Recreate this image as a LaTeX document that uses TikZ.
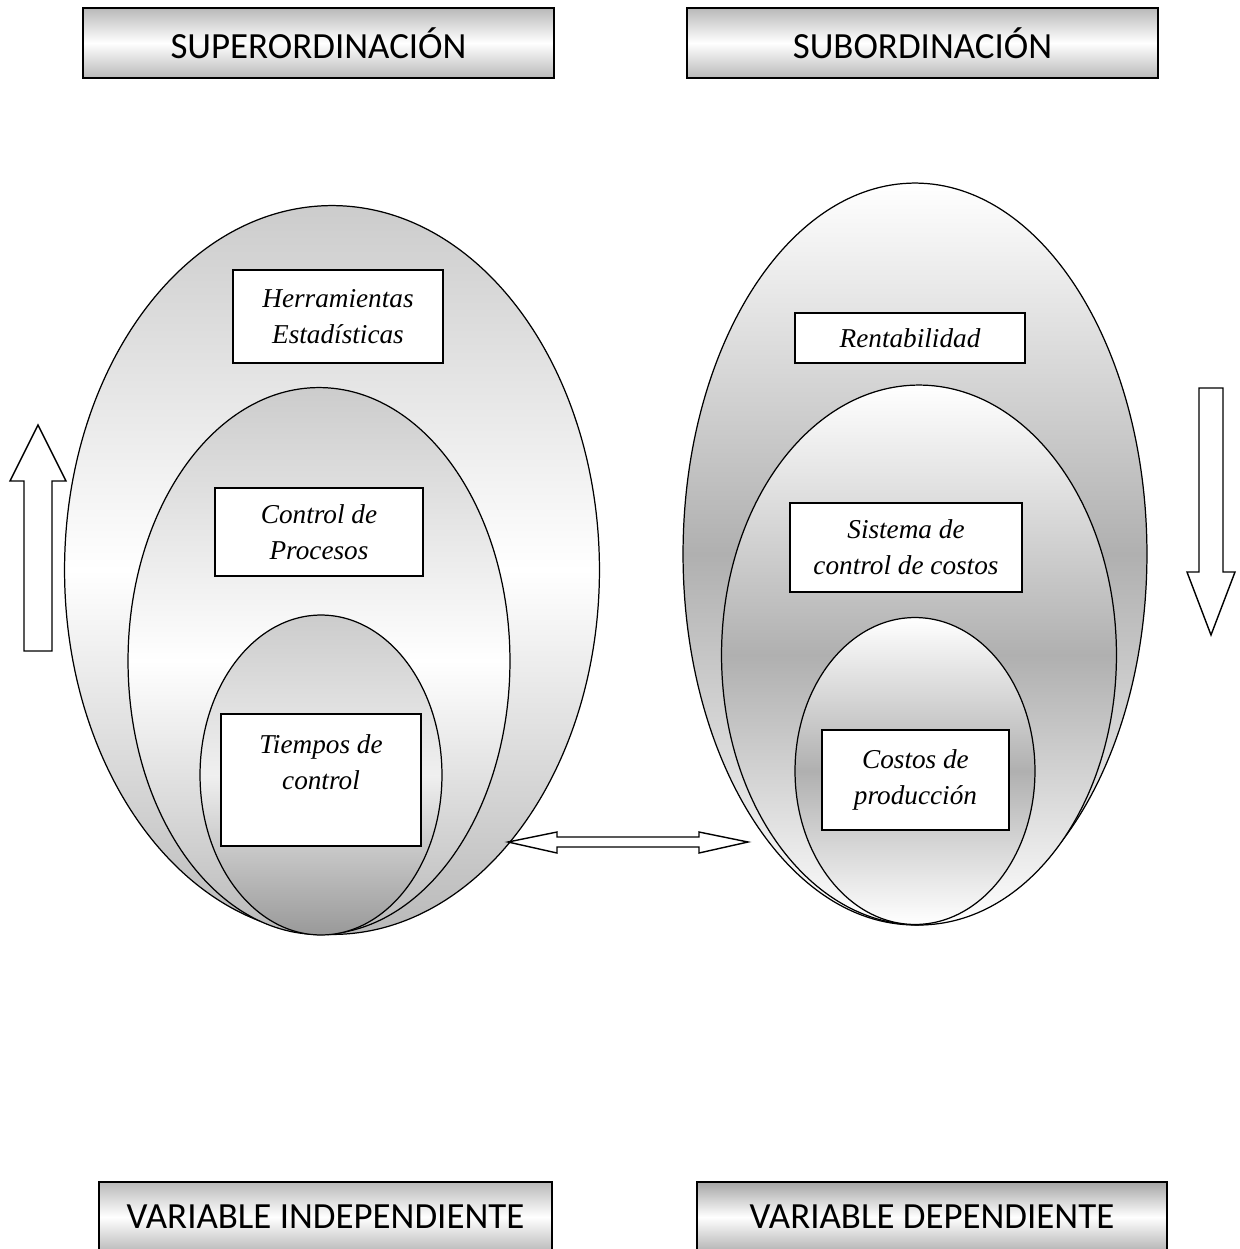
\documentclass[tikz,border=0pt]{standalone}
\usepackage{fontspec}
\setmainfont{Liberation Serif}
\newfontfamily\headfont{Carlito}
\usetikzlibrary{shapes.geometric}

\begin{document}
\begin{tikzpicture}[x=0.02cm,y=-0.02cm,
  headbox/.style={draw,line width=0.8pt,minimum width=9.42cm,minimum height=1.4cm,top color=gray!55,bottom color=gray!55,middle color=white,font=\headfont\fontsize{21}{25}\selectfont},
  riseoval/.style={draw,ellipse,line width=0.7pt,inner sep=0pt,top color=gray!40,bottom color=gray!55,middle color=white},
  sinkoval/.style={draw,ellipse,line width=0.7pt,inner sep=0pt,top color=white,bottom color=white,middle color=gray!62},
  itembox/.style={draw,line width=0.7pt,fill=white,align=center,font=\itshape\fontsize{15.5}{20.5}\selectfont},
  blockarrow/.style={draw,line width=0.8pt,fill=white,line join=miter},
]
  \useasboundingbox (0,0) rectangle (1240,1249);
  \clip (0,0) rectangle (1240,1249);

  \node[headbox] (sup) at (318.5,43) {SUPERORDINACIÓN};
  \node[headbox] (sub) at (922.5,43) {SUBORDINACIÓN};

  % left side
  \node[riseoval,minimum width=10.70cm,minimum height=14.58cm] (lout) at (332,570) {};
  \node[riseoval,minimum width=7.64cm,minimum height=10.94cm] (lmid) at (319,661) {};
  \node[riseoval,minimum width=4.84cm,minimum height=6.40cm,top color=gray!40,bottom color=gray!80,middle color=gray!12] (lin) at (321,775) {};
  \node[itembox,minimum width=4.2cm,minimum height=1.86cm] (herr) at (338,316.5) {Herramientas\\Estadísticas};
  \node[itembox,minimum width=4.16cm,minimum height=1.76cm] (proc) at (319,532) {Control de\\Procesos};
  \node[itembox,minimum width=4.0cm,minimum height=2.64cm] (tiem) at (321,780) {Tiempos de\\control\\ \mbox{}};

  % right side
  \node[sinkoval,minimum width=9.28cm,minimum height=14.84cm] (rout) at (915,554) {};
  \node[sinkoval,minimum width=7.90cm,minimum height=10.80cm] (rmid) at (919,655) {};
  \node[sinkoval,minimum width=4.80cm,minimum height=6.14cm] (rin) at (915,771) {};
  \node[itembox,minimum width=4.6cm,minimum height=1.0cm] (rent) at (910,338) {Rentabilidad};
  \node[itembox,minimum width=4.64cm,minimum height=1.78cm] (sist) at (906,547.5) {Sistema de\\control de costos};
  \node[itembox,minimum width=3.74cm,minimum height=2.0cm] (cost) at (915.5,780) {Costos de\\producción};

  % arrows
  \draw[blockarrow] (38,425) -- (66,481) -- (52,481) -- (52,651) -- (24,651) -- (24,481) -- (10,481) -- cycle;
  \draw[blockarrow] (1211,635) -- (1235,572) -- (1223,572) -- (1223,388) -- (1199,388) -- (1199,572) -- (1187,572) -- cycle;
  \draw[blockarrow] (508,842) -- (557,832) -- (557,837) -- (699,837) -- (699,832) -- (748,842)
    -- (699,853) -- (699,847) -- (557,847) -- (557,853) -- cycle;

  \node[headbox,minimum width=9.06cm] (indep) at (325.5,1217) {VARIABLE INDEPENDIENTE};
  \node[headbox,minimum width=9.4cm,top color=gray!70,bottom color=gray!60,middle color=white] (dep) at (932,1217) {VARIABLE DEPENDIENTE};
\end{tikzpicture}
\end{document}
